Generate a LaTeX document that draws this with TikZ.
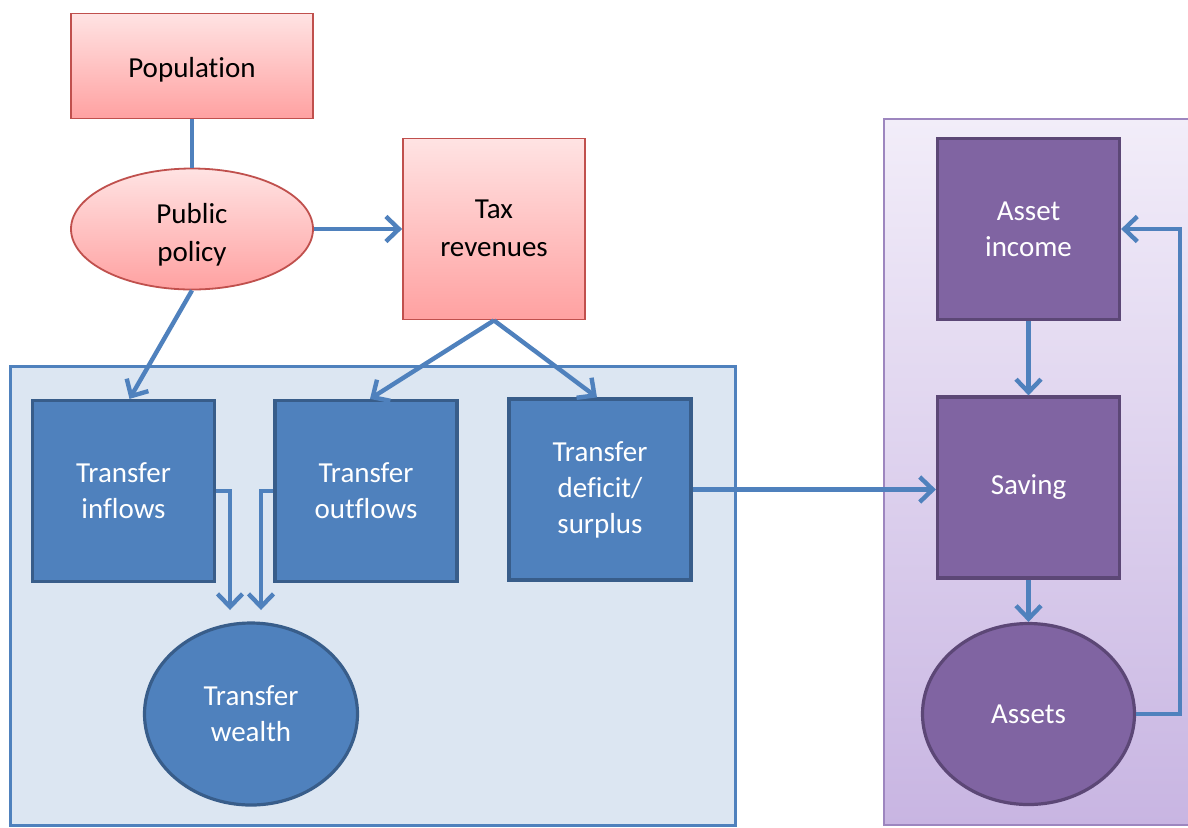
\documentclass[tikz,border=0pt]{standalone}
\usepackage{fontspec}
\setmainfont[Ligatures=NoCommon]{Carlito}
\usetikzlibrary{arrows.meta,shapes.geometric}
\definecolor{pinkline}{HTML}{C0504D}
\definecolor{pinktop}{HTML}{FFE3E3}
\definecolor{pinkbot}{HTML}{FFA1A1}
\definecolor{blueline}{HTML}{385D8A}
\definecolor{bluefill}{HTML}{4F81BD}
\definecolor{panelblue}{HTML}{DCE6F2}
\definecolor{purpfill}{HTML}{8064A2}
\definecolor{purpline}{HTML}{5C4776}
\definecolor{paneltop}{HTML}{F2EDF9}
\definecolor{panelbot}{HTML}{C8B5E2}
\definecolor{panelline}{HTML}{9D86BF}
\begin{document}
\begin{tikzpicture}[x=0.5pt, y=-0.5pt,
    pinkbox/.style={draw=pinkline, line width=0.9pt, top color=pinktop, bottom color=pinkbot, align=center, inner sep=0pt, text depth=3.6pt, font=\fontsize{14.5}{19}\selectfont},
    bluebox/.style={draw=blueline, fill=bluefill, line width=1.6pt, text=white, align=center, inner sep=0pt, font=\fontsize{14.5}{18}\selectfont},
    purpbox/.style={draw=purpline, fill=purpfill, line width=1.6pt, text=white, align=center, inner sep=0pt, font=\fontsize{14.5}{18}\selectfont},
    square/.style={minimum width=91pt, minimum height=90.5pt},
    flow/.style={draw=bluefill, line width=2.2pt, -{Straight Barb[length=6.5pt,width=12.5pt]}}]
    \useasboundingbox (0,0) rectangle (1188,827);
    \fill[white] (0,0) rectangle (1188,827);
    \clip (0,0) rectangle (1188,827);
    \draw[fill=panelblue, draw=bluefill, line width=1.5pt] (10,366) rectangle (735,825);
    \draw[top color=paneltop, bottom color=panelbot, draw=panelline, line width=1pt] (884,119) rectangle (1200,825);
    \node[pinkbox, text height=14.6pt, minimum width=121pt, minimum height=52.5pt] (population) at (192,66) {Population};
    \node[pinkbox, ellipse, text height=35.6pt, minimum width=121pt, minimum height=60.5pt] (policy) at (192,229) {Public\\policy};
    \node[pinkbox, text height=31pt, minimum width=91pt, minimum height=90.5pt] (tax) at (494,229) {Tax\\revenues};
    \node[bluebox, square] (inflows) at (123.5,491) {Transfer\\inflows};
    \node[bluebox, square] (outflows) at (366,491) {Transfer\\outflows};
    \node[bluebox, square] (deficit) at (600,489.5) {Transfer\\deficit/\\surplus};
    \node[bluebox, ellipse, minimum width=106.5pt, minimum height=91pt] (wealth) at (251,714) {Transfer\\wealth};
    \node[purpbox, square] (income) at (1028.5,229) {Asset\\income};
    \node[purpbox, square] (saving) at (1028.5,487.5) {Saving};
    \node[purpbox, ellipse, minimum width=106pt, minimum height=90.5pt] (assets) at (1028.5,714) {Assets};
    \coordinate (intip) at (230,610);
    \coordinate (outtip) at (261,610);
    \coordinate (loop) at (1180,714);
    \draw[flow, -] (population) -- (policy);
    \draw[flow] (policy) -- (tax);
    \draw[flow] (policy.south) -- ([xshift=3pt]inflows.north);
    \draw[flow] (tax.south) -- ([xshift=2pt]outflows.north);
    \draw[flow] (tax.south) -- ([xshift=-1.5pt]deficit.north);
    \draw[flow] (inflows.east) -| (intip);
    \draw[flow] (outflows.west) -| (outtip);
    \draw[flow] (deficit.east) -- (deficit.east -| saving.west);
    \draw[flow] (income) -- (saving);
    \draw[flow] (saving) -- (assets);
    \draw[flow] (assets.east) -- (loop) |- (income.east);
\end{tikzpicture}
\end{document}
